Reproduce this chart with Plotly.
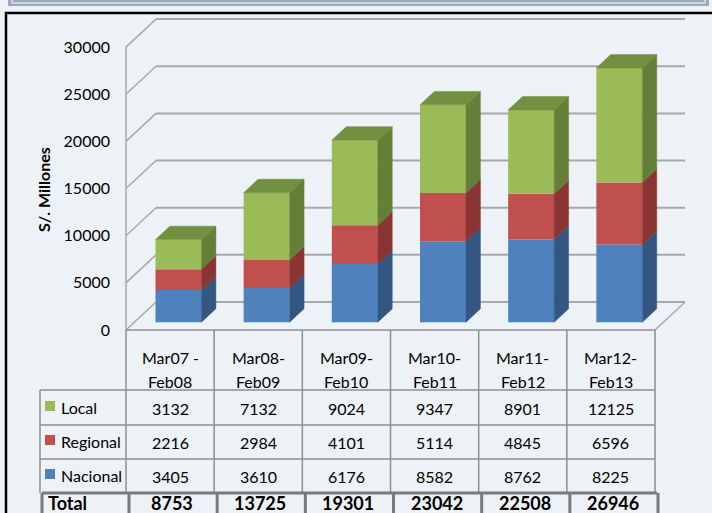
import plotly.graph_objects as go

# ---------------- data ----------------
cats_line1 = ["Mar07 -", "Mar08-", "Mar09-", "Mar10-", "Mar11-", "Mar12-"]
cats_line2 = ["Feb08", "Feb09", "Feb10", "Feb11", "Feb12", "Feb13"]
nacional = [3405, 3610, 6176, 8582, 8762, 8225]
regional = [2216, 2984, 4101, 5114, 4845, 6596]
local = [3132, 7132, 9024, 9347, 8901, 12125]
totals = [8753, 13725, 19301, 23042, 22508, 26946]
y_ticks = [0, 5000, 10000, 15000, 20000, 25000, 30000]
series_names = ["Nacional", "Regional", "Local"]

# ---------------- style / layout ----------------
W, H = 712, 513
BG = "#ECF2F6"
FONT = "Lato"
front_col = {"Nacional": "#4F81BD", "Regional": "#C0504D", "Local": "#9BBB59"}
side_col = {"Nacional": "#345682", "Regional": "#8A3533", "Local": "#667F38"}
top_col = {"Nacional": "#4470A6", "Regional": "#A64441", "Local": "#738F40"}
GRID = "#A8A8A8"
TABLE = "#8E8E8E"

PX_CAT = 88.17          # pixels per category
PX_UNIT = 0.00943       # pixels per value unit
X0_PX = 126             # pixel of x = -0.5
Y0_PX = 330             # pixel of value 0
L = 123
R_PX = 692
T = 12
B_PX = 333
x_lo = -0.5 - (X0_PX - L) / PX_CAT
x_hi = -0.5 + (R_PX - X0_PX) / PX_CAT
y_lo = -(B_PX - Y0_PX) / PX_UNIT
y_hi = (Y0_PX - T) / PX_UNIT

DX = 30 / PX_CAT        # full depth in x units
DY = 28 / PX_UNIT       # full depth in y units
F = 0.28                # bar front depth fraction
D = 0.48                # bar depth fraction
BW = 46 / PX_CAT        # bar width

n = len(totals)


def px2x(px):
    return (px - L) / (R_PX - L)


def py2y(py):
    return (B_PX - py) / (B_PX - T)


fig = go.Figure()

# front faces
stack = {"Nacional": nacional, "Regional": regional, "Local": local}
cum = [0] * n
segs = {}
for name in series_names:
    vals = stack[name]
    base = [F * DY + c for c in cum]
    fig.add_trace(go.Bar(
        x=[i + F * DX for i in range(n)], y=vals, base=base, width=BW,
        marker=dict(color=front_col[name], line=dict(width=0)),
        hoverinfo="skip", showlegend=False))
    segs[name] = [(base[i], base[i] + vals[i]) for i in range(n)]
    cum = [cum[i] + vals[i] for i in range(n)]

# side faces
dxb, dyb = D * DX, D * DY
for name in series_names:
    xs, ys = [], []
    for i in range(n):
        xr = i + F * DX + BW / 2
        b, t = segs[name][i]
        xs += [xr, xr + dxb, xr + dxb, xr, xr, None]
        ys += [b, b + dyb, t + dyb, t, b, None]
    fig.add_trace(go.Scatter(x=xs, y=ys, mode="lines", fill="toself",
                             fillcolor=side_col[name],
                             line=dict(width=0.5, color=side_col[name]),
                             hoverinfo="skip", showlegend=False))

# top faces (top segment)
xs, ys = [], []
for i in range(n):
    xr = i + F * DX + BW / 2
    xl = xr - BW
    t = segs["Local"][i][1]
    xs += [xl, xr, xr + dxb, xl + dxb, xl, None]
    ys += [t, t, t + dyb, t + dyb, t, None]
fig.add_trace(go.Scatter(x=xs, y=ys, mode="lines", fill="toself",
                         fillcolor=top_col["Local"],
                         line=dict(width=0.5, color=top_col["Local"]),
                         hoverinfo="skip", showlegend=False))

shapes = []
# walls / gridlines
for v in y_ticks:
    shapes.append(dict(type="line", xref="x", yref="y", layer="below",
                       x0=-0.5 + DX, x1=n - 0.5 + DX, y0=v + DY, y1=v + DY,
                       line=dict(color=GRID, width=2)))
    shapes.append(dict(type="line", xref="x", yref="y", layer="below",
                       x0=-0.5, x1=-0.5 + DX, y0=v, y1=v + DY,
                       line=dict(color=GRID, width=1.5)))
shapes.append(dict(type="line", xref="x", yref="y", layer="below",
                   x0=-0.5, x1=-0.5, y0=0, y1=y_ticks[-1],
                   line=dict(color=GRID, width=1.5)))
shapes.append(dict(type="line", xref="x", yref="y", layer="below",
                   x0=n - 0.5, x1=n - 0.5 + DX, y0=0, y1=DY,
                   line=dict(color=GRID, width=1.5)))

# outer frame and top strip
shapes.append(dict(type="rect", xref="paper", yref="paper",
                   x0=px2x(6), x1=px2x(740), y0=py2y(13), y1=py2y(540),
                   line=dict(color="black", width=2.5)))
shapes.append(dict(type="rect", xref="paper", yref="paper",
                   x0=px2x(8), x1=px2x(709), y0=py2y(6), y1=py2y(-10),
                   fillcolor="#9AA9BB", line=dict(width=0)))
shapes.append(dict(type="rect", xref="paper", yref="paper",
                   x0=px2x(12), x1=px2x(705), y0=py2y(3), y1=py2y(-10),
                   line=dict(color="white", width=1)))

# table
row_tops = [390, 425, 459, 493]
hdr_top = 330
LEG_L = 40
for i in range(n + 1):
    xc = -0.5 + i
    shapes.append(dict(type="line", xref="x", yref="paper", x0=xc, x1=xc,
                       y0=py2y(hdr_top), y1=py2y(row_tops[-1]),
                       line=dict(color=TABLE, width=1.5)))
shapes.append(dict(type="line", xref="paper", yref="paper",
                   x0=px2x(LEG_L), x1=px2x(LEG_L),
                   y0=py2y(row_tops[0]), y1=py2y(row_tops[-1]),
                   line=dict(color=TABLE, width=1.5)))
shapes.append(dict(type="line", xref="x", yref="paper", x0=-0.5, x1=n - 0.5,
                   y0=py2y(hdr_top), y1=py2y(hdr_top),
                   line=dict(color=TABLE, width=1.5)))
for r in row_tops[:-1]:
    shapes.append(dict(type="line", xref="paper", yref="paper",
                       x0=px2x(LEG_L), x1=px2x(X0_PX + n * PX_CAT),
                       y0=py2y(r), y1=py2y(r),
                       line=dict(color=TABLE, width=1.5)))
# total row (heavier)
shapes.append(dict(type="line", xref="paper", yref="paper",
                   x0=px2x(42), x1=px2x(X0_PX + n * PX_CAT + 2),
                   y0=py2y(row_tops[-1]), y1=py2y(row_tops[-1]),
                   line=dict(color="#7A7A7A", width=3)))
shapes.append(dict(type="line", xref="paper", yref="paper",
                   x0=px2x(42), x1=px2x(42), y0=py2y(row_tops[-1]), y1=py2y(530),
                   line=dict(color="#7A7A7A", width=3)))
for i in range(n + 1):
    xc = -0.5 + i + 3 / PX_CAT
    shapes.append(dict(type="line", xref="x", yref="paper", x0=xc, x1=xc,
                       y0=py2y(row_tops[-1]), y1=py2y(530),
                       line=dict(color="#7A7A7A", width=3)))

# legend swatches
row_centers = [408, 442, 476]
table_rows = [("Local", local), ("Regional", regional), ("Nacional", nacional)]
for (name, _), yc in zip(table_rows, row_centers):
    shapes.append(dict(type="rect", xref="paper", yref="paper",
                       x0=px2x(45), x1=px2x(55), y0=py2y(yc - 7), y1=py2y(yc + 3),
                       fillcolor=front_col[name], line=dict(width=0)))

TXT = dict(size=16, family=FONT, color="black")
ann = []
for i in range(n):
    ann.append(dict(x=i, y=py2y(357), xref="x", yref="paper", text=cats_line1[i],
                    xanchor="center", yanchor="middle", showarrow=False, font=TXT))
    ann.append(dict(x=i, y=py2y(381), xref="x", yref="paper", text=cats_line2[i],
                    xanchor="center", yanchor="middle", showarrow=False, font=TXT))
for (name, vals), yc in zip(table_rows, row_centers):
    ann.append(dict(x=px2x(59), y=py2y(yc - 1), xref="paper", yref="paper", text=name,
                    xanchor="left", yanchor="middle", showarrow=False, font=TXT))
    for i in range(n):
        ann.append(dict(x=i, y=py2y(yc), xref="x", yref="paper", text=str(vals[i]),
                        xanchor="center", yanchor="middle", showarrow=False, font=TXT))
TOT = dict(size=18, family=FONT, color="black")
TOT_Y = 503
ann.append(dict(x=px2x(46), y=py2y(TOT_Y), xref="paper", yref="paper", text="<b>Total</b>",
                xanchor="left", yanchor="middle", showarrow=False, font=TOT))
for i in range(n):
    ann.append(dict(x=i + 2 / PX_CAT, y=py2y(TOT_Y), xref="x", yref="paper",
                    text="<b>%d</b>" % totals[i], xanchor="center", yanchor="middle",
                    showarrow=False, font=TOT))
ann.append(dict(x=px2x(43), y=py2y(190), xref="paper", yref="paper",
                text="<b>S/. Millones</b>", textangle=-90, showarrow=False,
                xanchor="center", yanchor="middle", font=TXT))

fig.update_layout(
    width=W, height=H, autosize=False,
    margin=dict(l=L, r=W - R_PX, t=T, b=H - B_PX, pad=0),
    paper_bgcolor=BG, plot_bgcolor=BG,
    barmode="overlay", showlegend=False,
    xaxis=dict(range=[x_lo, x_hi], visible=False, fixedrange=True),
    yaxis=dict(range=[y_lo, y_hi], tickvals=y_ticks,
               ticktext=[str(v) for v in y_ticks],
               showgrid=False, zeroline=False, showline=False, ticks="",
               ticklabelstandoff=12,
               tickfont=TXT,
               fixedrange=True),
    shapes=shapes, annotations=ann,
)

fig.write_html("out.html", config={"displayModeBar": False},
               post_script="document.body.style.margin='0px';document.body.style.overflow='hidden';")
